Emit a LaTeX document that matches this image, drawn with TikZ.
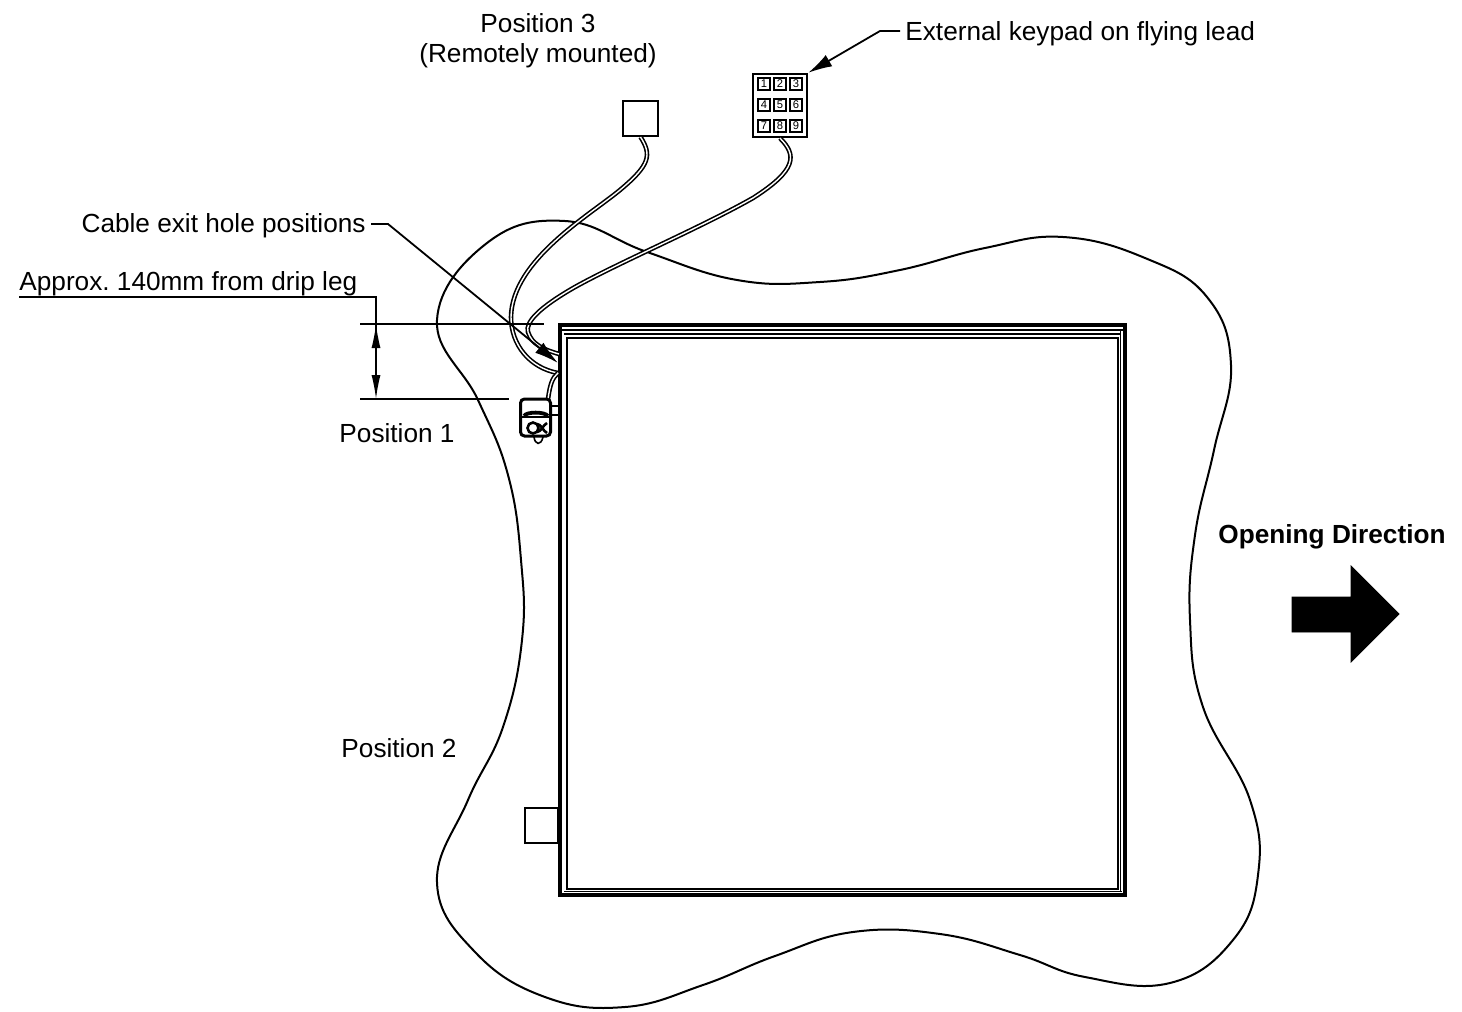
\documentclass[tikz,border=0pt]{standalone}
\usepackage{fontspec}
\setmainfont{Liberation Sans}
\frenchspacing
\usetikzlibrary{calc}
\usetikzlibrary{arrows.meta}
\tikzset{
  lbl/.style={draw=none,fill=none,inner sep=0pt,font=\fontsize{13.1}{15}\selectfont},
  thinline/.style={line width=0.7pt},
  cable/.style={double=white,draw=black,line width=0.8pt,double distance=0.7pt},
  boxnode/.style={draw,line width=1pt,fill=white,inner sep=0pt},
  ptr/.style={line width=0.9pt,-{Latex[length=12pt,width=6.5pt]}},
}
\newcommand{\keycell}[4]{\node[draw,line width=1pt,inner sep=0pt,minimum size=5.8pt,font=\fontsize{5.6}{5.6}\selectfont] (#1) at ( #2 , #3 ) {#4};}
\newcommand{\lablnode}[4]{\node[lbl,#1] (#2) at ( #3 ) {#4};}
\begin{document}
\begin{tikzpicture}[x=0.5pt,y=-0.5pt]
                \useasboundingbox (0,0) rectangle (1462,1012);

                % outline of the wall
                \draw[line width=1pt] plot[smooth cycle,tension=0.72] coordinates {
                  (437,320) (487,243) (565,221) (647,252) (737,280) (820,282) (900,270) (985,248)
                  (1063,237) (1145,258) (1207,297) (1231,365) (1214,450) (1195,535) (1190,620)
                  (1203,707) (1250,800) (1258,875) (1233,940) (1170,983) (1085,977) (1020,955)
                  (940,934) (853,932) (775,956) (703,985) (625,1007) (545,997) (475,952) (437,883)
                  (468,800) (503,727) (522,640) (521,560) (508,475) (478,400)};

                % door frame
                \draw[line width=2.2pt,fill=white] (560,325) rectangle (1125,895);
                \draw[line width=0.7pt] (562,330) -- (1123,330);
                \draw[line width=0.6pt] (564,334) -- (1121,334);
                \draw[line width=1.4pt] (567,338) rectangle (1118,889);
                \draw[line width=0.7pt] (1120.5,330) -- (1120.5,892);
                \draw[line width=0.7pt] (564,891.5) -- (1122,891.5);

                % position 2 and position 3
                \node[boxnode,minimum width=16.5pt,minimum height=17.5pt] (sidebox) at (541.5,825.5) {};
                \node[boxnode,minimum width=17.5pt,minimum height=17.5pt] (remotebox) at (640.5,118.5) {};

                % keypad
                \node[draw,line width=1.2pt,fill=white,inner sep=0pt,minimum width=27pt,minimum height=31.5pt] (keypad) at (780,105.5) {};
                \keycell{k1}{764}{84}{1}
                \keycell{k2}{780}{84}{2}
                \keycell{k3}{796}{84}{3}
                \keycell{k4}{764}{105}{4}
                \keycell{k5}{780}{105}{5}
                \keycell{k6}{796}{105}{6}
                \keycell{k7}{764}{126}{7}
                \keycell{k8}{780}{126}{8}
                \keycell{k9}{796}{126}{9}

                % cables
                \coordinate (exit1) at (558,373);
                \coordinate (exit2) at (559,354);
                \draw[cable] (remotebox.south) .. controls (652,155) and (650,165) .. (620,190)
                   .. controls (590,215) and (512,260) .. (511,317)
                   .. controls (511,345) and (530,368) .. (exit1);
                \draw[cable] (keypad.south) .. controls (797,155) and (797,170) .. (753,198)
                   .. controls (700,228) and (620,262) .. (575,287)
                   .. controls (540,307) and (525,322) .. (528,332)
                   .. controls (532,345) and (545,350) .. (exit2);
                \draw[cable] (exit1) .. controls (552,378) and (550,385) .. (548,399);

                % sensor at position 1
                \draw[line width=0.8pt] (551,406) -- (558,406) (551,415) -- (558,415);
                \node[draw,line width=1.5pt,fill=white,rounded corners=2pt,inner sep=0pt,minimum width=15pt,minimum height=18.5pt] (sensor) at (535.5,417.5) {};
                \draw[line width=1.9pt] (524,416) .. controls (526,411.5) and (545,411.5) .. (548,416);
                \draw[line width=0.9pt] (521,417) -- (550,417);
                \node[draw,circle,line width=1.3pt,inner sep=0pt,minimum size=5.5pt] (dial) at (533,428) {};
                \draw[line width=1.3pt] (537,424) .. controls (541,424) and (543,431) .. (547,433)
                    (537,432) .. controls (541,432) and (543,425) .. (547,423);
                \draw[line width=0.8pt] (534,437) .. controls (535,445) and (541,446) .. (543,437);

                % dimension lines
                \draw[thinline] (360,324) -- (544,324);
                \draw[thinline] (360,399) -- (509,399);
                \coordinate (dimtop) at (376,324);
                \coordinate (dimbot) at (376,399);
                \coordinate (dimmid) at (376,360);
                \draw[thinline,-{Latex[length=12pt,width=4.5pt]}] (dimmid) -- (dimtop);
                \draw[thinline,-{Latex[length=12pt,width=4.5pt]}] (dimmid) -- (dimbot);

                % labels
                \lablnode{anchor=center,align=center}{posthree}{538,40.5}{Position 3\\(Remotely mounted)}
                \lablnode{anchor=west}{keylabel}{905,33.5}{External keypad on flying lead}
                \lablnode{anchor=east}{holelabel}{366,226}{Cable exit hole positions}
                \lablnode{anchor=west}{driplabel}{19,284}{Approx. 140mm from drip leg}
                \lablnode{anchor=center}{posone}{397,433}{Position 1}
                \lablnode{anchor=center}{postwo}{399,748}{Position 2}
                \lablnode{anchor=center,font=\fontsize{13.1}{15}\selectfont\bfseries}{openlabel}{1332,537}{Opening Direction}

                % leaders
                \coordinate (keyelbow) at (880,31);
                \coordinate (holeelbow) at (388,224);
                \coordinate (holeend) at (558,363);
                \coordinate (dripend) at (376,297);
                \draw[ptr] (keylabel.west) ++(-5,-2.5) -- (keyelbow) -- (keypad.north east);
                \draw[ptr] (holelabel.east) ++(5,-2) -- (holeelbow) -- (holeend);
                \draw[thinline] (19,297) -- (dripend) -- (dimmid);

                % direction arrow
                \draw[fill=black,draw=black] (1292,597) -- (1351,597) -- (1351,566) -- (1399,614) -- (1351,662) -- (1351,632) -- (1292,632) -- cycle;
\end{tikzpicture}
\end{document}
